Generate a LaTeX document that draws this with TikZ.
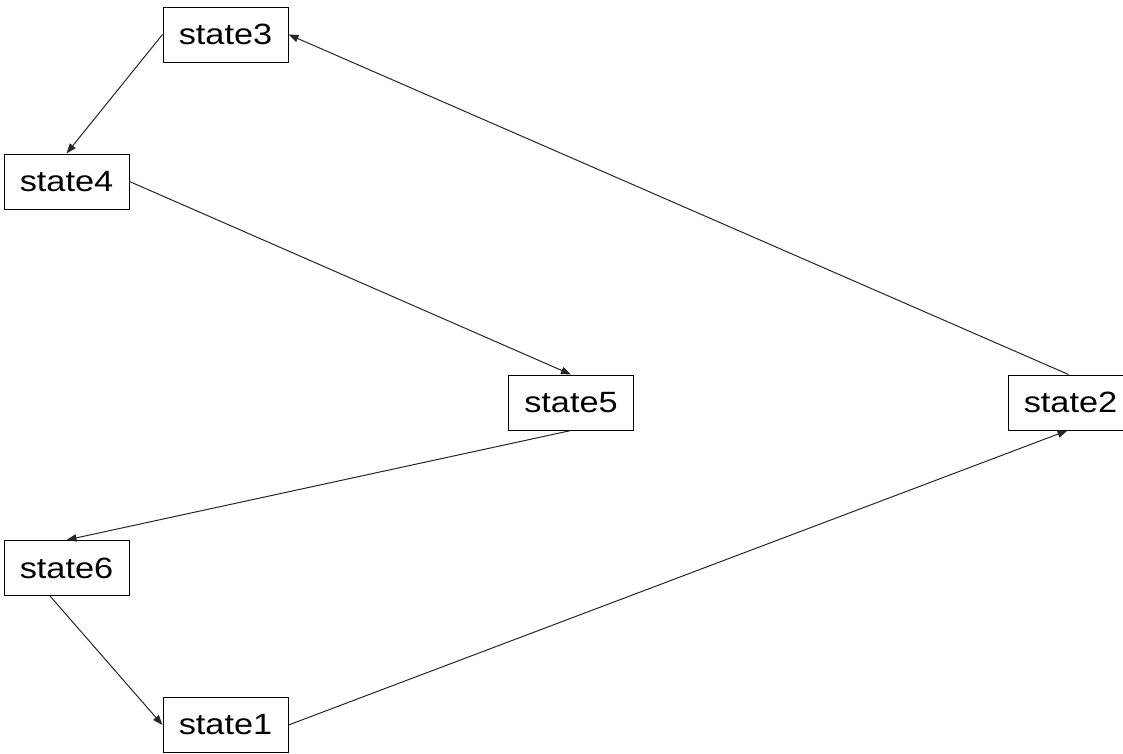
\documentclass[tikz,border=0pt]{standalone}
\usepackage{fontspec}
\usetikzlibrary{arrows.meta,calc}
\newfontfamily\statefont[FakeStretch=1.17]{Liberation Sans}
\begin{document}
\begin{tikzpicture}[x=0.75pt,y=-0.75pt,
  statebox/.style={draw=black,line width=0.75pt,fill=white,
    minimum width=93.75pt,minimum height=41.25pt,inner sep=0pt,
    font=\statefont\fontsize{22pt}{26pt}\selectfont},
  edge/.style={draw=black!85,line width=0.75pt,
    -{Triangle[length=7.5pt,width=5.5pt]}}]
  \useasboundingbox (0,0) rectangle (1123,753);
  \clip (0,0) rectangle (1123,753);
  \fill[white] (0,0) rectangle (1123,753);

  % state boxes
  \node[statebox] (s3) at (225.5,34.5) {state3};
  \node[statebox] (s4) at (66.5,181.5) {state4};
  \node[statebox] (s5) at (571,402.5) {state5};
  \node[statebox] (s2) at (1070.5,402.5) {state2};
  \node[statebox] (s6) at (66.5,568) {state6};
  \node[statebox] (s1) at (225.5,725) {state1};

  % transitions
  \draw[edge] (s3.west) -- (s4.north);
  \draw[edge] (s4.east) -- (s5.north);
  \draw[edge] (s5.south) -- (s6.north);
  \draw[edge] ($(s6.south)+(-16.5,0)$) -- (s1.west);
  \draw[edge] (s1.east) -- ($(s2.south)+(-3,0)$);
  \draw[edge] ($(s2.north)+(-2,0)$) -- (s3.east);
\end{tikzpicture}
\end{document}
